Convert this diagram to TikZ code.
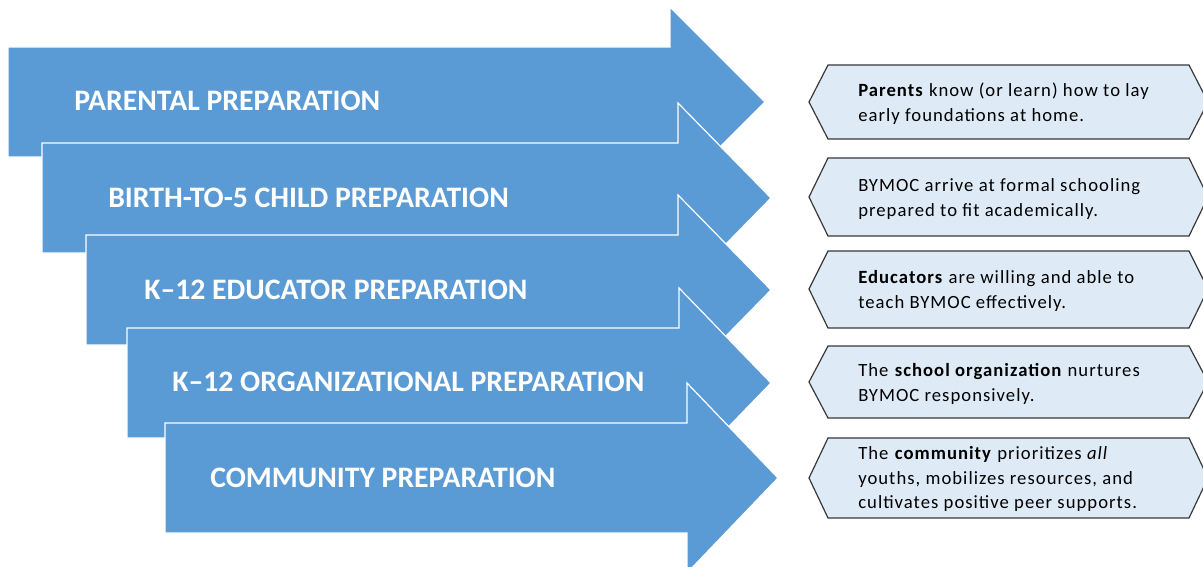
\documentclass[tikz,border=0pt]{standalone}
\usepackage{fontspec}
\setmainfont{Carlito}
\newfontfamily\notefont[LetterSpace=5.5]{Carlito}
\usepackage{tikz}

\begin{document}
\begin{tikzpicture}[x=0.75pt,y=0.75pt,yscale=-1,xscale=1,
  arrowshape/.style={fill={rgb, 255:red, 91; green, 155; blue, 213}, draw=white, line width=0.9pt},
  hexbox/.style={fill={rgb, 255:red, 222; green, 235; blue, 247}, draw={rgb, 255:red, 56; green, 56; blue, 56}, line width=0.9pt},
  title/.style={anchor=west, inner sep=0.75pt, text=white, font=\fontsize{22.3}{26}\selectfont\bfseries},
  note/.style={anchor=west, inner sep=0.75pt, align=left, font=\notefont\fontsize{14}{18.6}\selectfont}]
\clip (0,0) rectangle (1203,567);

%Shape: Right Arrow
\draw [arrowshape] (8,47) -- (670,47) -- (670,7) -- (765,102) -- (670,197) -- (670,157) -- (8,157) -- cycle ;
%Shape: Right Arrow
\draw [arrowshape] (42,143) -- (678,143) -- (678,103) -- (771,198) -- (678,293) -- (678,253) -- (42,253) -- cycle ;
%Shape: Right Arrow
\draw [arrowshape] (86,235) -- (678,235) -- (678,195) -- (771,290) -- (678,385) -- (678,345) -- (86,345) -- cycle ;
%Shape: Right Arrow
\draw [arrowshape] (127,328) -- (679,328) -- (679,288) -- (771,383) -- (679,478) -- (679,438) -- (127,438) -- cycle ;
%Shape: Right Arrow
\draw [arrowshape] (165,423) -- (687,423) -- (687,383) -- (778,478) -- (687,573) -- (687,533) -- (165,533) -- cycle ;

%Shape: Hexagon
\draw [hexbox] (809,102) -- (828,65) -- (1189,65) -- (1208,102) -- (1189,139) -- (828,139) -- cycle ;
%Shape: Hexagon
\draw [hexbox] (809,197) -- (828,158) -- (1189,158) -- (1208,197) -- (1189,236) -- (828,236) -- cycle ;
%Shape: Hexagon
\draw [hexbox] (809,289) -- (828,251) -- (1189,251) -- (1208,289) -- (1189,328) -- (828,328) -- cycle ;
%Shape: Hexagon
\draw [hexbox] (809,382) -- (828,346) -- (1189,346) -- (1208,382) -- (1189,418) -- (828,418) -- cycle ;
%Shape: Hexagon
\draw [hexbox] (809,478) -- (828,438) -- (1189,438) -- (1208,478) -- (1189,518) -- (828,518) -- cycle ;

% Text Node
\draw (73,101) node (parental) [title] {PARENTAL PREPARATION};
% Text Node
\draw (107,198) node (child) [title] {BIRTH-TO-5 CHILD PREPARATION};
% Text Node
\draw (143,290) node (educator) [title] {K–12 EDUCATOR PREPARATION};
% Text Node
\draw (171,382) node (organization) [title] {K–12 ORGANIZATIONAL PREPARATION};
% Text Node
\draw (209,478) node (community) [title] {COMMUNITY PREPARATION};

% Text Node
\draw (857,104) node (parentsnote) [note] {\textbf{Parents} know (or learn) how to lay\\early foundations at home.};
% Text Node
\draw (857,199) node (childnote) [note] {BYMOC arrive at formal schooling\\prepared to fit academically.};
% Text Node
\draw (857,291) node (educatornote) [note] {\textbf{Educators} are willing and able to\\teach BYMOC effectively.};
% Text Node
\draw (857,384) node (organizationnote) [note] {The \textbf{school organization} nurtures\\BYMOC responsively.};
% Text Node
\draw (857,479) node (communitynote) [note] {The \textbf{community} prioritizes \textit{all}\\youths, mobilizes resources, and\\cultivates positive peer supports.};

\end{tikzpicture}
\end{document}
